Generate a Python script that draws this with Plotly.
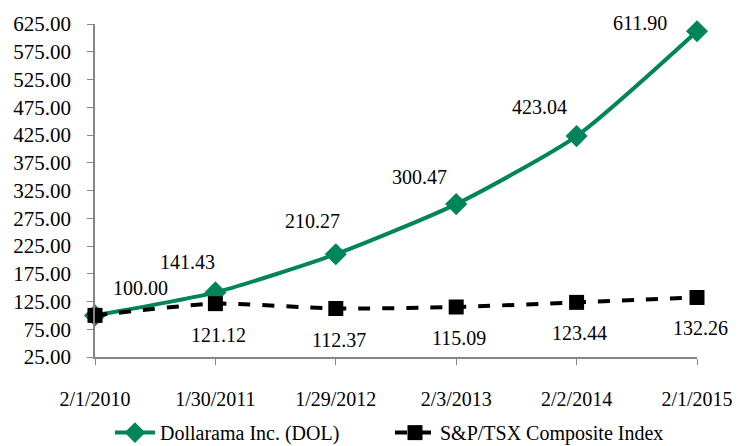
import plotly.graph_objects as go

dates = ["2/1/2010", "1/30/2011", "1/29/2012", "2/3/2013", "2/2/2014", "2/1/2015"]
dol = [100.00, 141.43, 210.27, 300.47, 423.04, 611.90]
tsx = [100.00, 121.12, 112.37, 115.09, 123.44, 132.26]
yticks = [25, 75, 125, 175, 225, 275, 325, 375, 425, 475, 525, 575, 625]

xi = list(range(len(dates)))
FONT = "Liberation Serif"
GREEN = "#00845A"

fig = go.Figure()
fig.add_trace(go.Scatter(
    x=xi, y=dol, mode="lines+markers", name="Dollarama Inc. (DOL)",
    line=dict(color=GREEN, width=4, shape="spline", smoothing=0.6),
    marker=dict(symbol="diamond", size=17, color=GREEN),
    cliponaxis=False,
))
fig.add_trace(go.Scatter(
    x=xi, y=tsx, mode="lines+markers", name="S&P/TSX Composite Index",
    line=dict(color="black", width=4, dash="dash", shape="spline", smoothing=0.6),
    marker=dict(symbol="square", size=15, color="black"),
    cliponaxis=False,
))

dol_off = [(45, 27), (-28, 30), (-23, 33), (-37, 27), (-37, 29), (-57, 8)]
for i, v in enumerate(dol):
    fig.add_annotation(x=i, y=v, text=f"{v:.2f}", showarrow=False,
                       xshift=dol_off[i][0], yshift=dol_off[i][1],
                       font=dict(family=FONT, size=20, color="black"))
for i, v in enumerate(tsx):
    if i == 0:
        continue
    fig.add_annotation(x=i, y=v, text=f"{v:.2f}", showarrow=False,
                       xshift=3, yshift=-31,
                       font=dict(family=FONT, size=20, color="black"))

fig.update_layout(
    template="none",
    width=740, height=446,
    margin=dict(l=95, r=43, t=24, b=89, autoexpand=False),
    paper_bgcolor="white", plot_bgcolor="white",
    font=dict(family=FONT, size=20, color="black"),
    showlegend=True,
    legend=dict(orientation="h", x=0.49, xanchor="center", yref="container",
                y=0.03, yanchor="middle", font=dict(family=FONT, size=20),
                itemwidth=40, tracegroupgap=0,
                entrywidth=225, entrywidthmode="pixels"),
    xaxis=dict(
        tickmode="array", tickvals=xi, ticktext=dates,
        range=[0, 5], showgrid=False, zeroline=False, automargin=False,
        showline=True, linecolor="#868686", linewidth=1.5,
        ticks="outside", ticklen=6, tickcolor="#868686",
        ticklabelstandoff=17,
        tickfont=dict(family=FONT, size=20),
    ),
    yaxis=dict(
        tickmode="array", tickvals=yticks, ticktext=[f"{t:.2f}" for t in yticks],
        range=[25, 625], showgrid=False, zeroline=False, automargin=False,
        showline=True, linecolor="#868686", linewidth=1.5,
        ticks="outside", ticklen=6, tickcolor="#868686",
        ticklabelstandoff=12,
        tickfont=dict(family=FONT, size=21),
    ),
)

fig.write_html("out.html")
